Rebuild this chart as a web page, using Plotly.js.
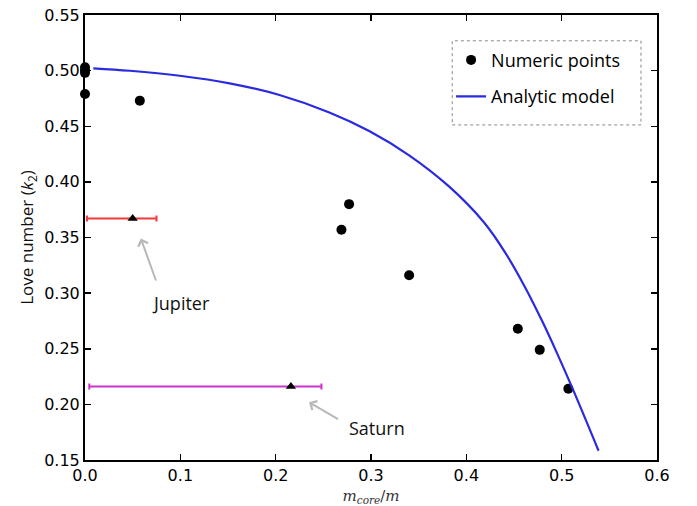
<!DOCTYPE html>
<html>
<head>
<meta charset="utf-8">
<script src="https://cdn.plot.ly/plotly-3.0.1.min.js"></script>
<style>html,body{margin:0;padding:0;background:#fff;}#chart{width:697px;height:506px;}</style>
</head>
<body>
<div id="chart"></div>
<script>
// Numeric points
const numX = [0.0, 0.0, 0.0, 0.0, 0.0575, 0.269, 0.277, 0.340, 0.454, 0.477, 0.507];
const numY = [0.503, 0.500, 0.498, 0.479, 0.473, 0.357, 0.380, 0.316, 0.268, 0.249, 0.214];

// Analytic model curve
const modelX = [0.0087, 0.0471, 0.0994, 0.1517, 0.2040, 0.2563, 0.2981, 0.3400, 0.3818, 0.4184, 0.4411, 0.4620, 0.4794, 0.4951, 0.5115, 0.5387];
const modelY = [0.5021, 0.4999, 0.4954, 0.4886, 0.4781, 0.4624, 0.4457, 0.4239, 0.3959, 0.3637, 0.3360, 0.3047, 0.2751, 0.2461, 0.2141, 0.1583];

// Planets
const planetNames = ["Jupiter", "Saturn"];
const planetX = [0.050, 0.216];
const planetY = [0.367, 0.216];
const planetErrPlus = [0.025, 0.032];
const planetErrMinus = [0.048, 0.2115];
const planetColors = ["#ee3a3a", "#cc33cc"];
// label positions and arrow tails/heads
const labelX = [0.101, 0.3065];
const labelY = [0.291, 0.179];
const arrowTailX = [0.075, 0.267];
const arrowTailY = [0.310, 0.186];
const arrowHeadX = [0.0586, 0.235];
const arrowHeadY = [0.349, 0.202];

const traces = [
  {x: numX, y: numY, mode: 'markers', type: 'scatter', name: 'Numeric points',
   marker: {color: '#000', size: 10}, cliponaxis: false, legendgroup: 'a'},
  {x: modelX, y: modelY, mode: 'lines', type: 'scatter', name: 'Analytic model',
   line: {color: '#2a2ae0', width: 2.2, shape: 'spline', smoothing: 1}, legendgroup: 'b'}
];
for (let i = 0; i < planetNames.length; i++) {
  traces.push({
    x: [planetX[i]], y: [planetY[i]], mode: 'markers', type: 'scatter', showlegend: false,
    name: planetNames[i],
    marker: {symbol: 'triangle-up', color: '#000', size: 9},
    error_x: {type: 'data', symmetric: false, array: [planetErrPlus[i]], arrayminus: [planetErrMinus[i]],
              color: planetColors[i], thickness: 2, width: 3},
    cliponaxis: false
  });
}

const annotations = [];
for (let i = 0; i < planetNames.length; i++) {
  annotations.push({x: arrowHeadX[i], y: arrowHeadY[i], ax: arrowTailX[i], ay: arrowTailY[i],
    xref: 'x', yref: 'y', axref: 'x', ayref: 'y', text: '', showarrow: true,
    arrowhead: 4, arrowsize: 1, arrowwidth: 2, arrowcolor: '#b8b8b8'});
  annotations.push({x: labelX[i], y: labelY[i], xref: 'x', yref: 'y', text: planetNames[i],
    showarrow: false, font: {family: 'Open Sans, sans-serif', size: 18, color: '#111'}});
}

const tickFont = {family: 'DejaVu Sans, sans-serif', size: 16, color: '#000'};
const layout = {
  width: 697, height: 506,
  margin: {l: 85, r: 40, t: 15, b: 46},
  paper_bgcolor: '#fff', plot_bgcolor: '#fff',
  showlegend: true,
  legend: {x: 0.64, y: 0.94, xanchor: 'left', yanchor: 'top', bgcolor: 'rgba(0,0,0,0)',
    borderwidth: 0, font: {family: 'Open Sans, sans-serif', size: 18, color: '#000'},
    traceorder: 'grouped', tracegroupgap: 10},
  xaxis: {range: [0, 0.6], dtick: 0.1, tick0: 0, tickformat: '.1f', ticks: 'inside', ticklen: 6,
    tickwidth: 1.5, tickcolor: '#000', showline: true, linecolor: '#000', linewidth: 2,
    mirror: 'allticks', showgrid: false, zeroline: false, tickfont: tickFont,
    title: {text: '<i>m</i><sub><i>core</i></sub>/<i>m</i>', font: {family: 'DejaVu Serif, Liberation Serif, serif', size: 15, color: '#333'}, standoff: 6}},
  yaxis: {range: [0.15, 0.55], dtick: 0.05, tick0: 0.15, tickformat: '.2f', ticks: 'inside', ticklen: 6,
    tickwidth: 1.5, tickcolor: '#000', showline: true, linecolor: '#000', linewidth: 2,
    mirror: 'allticks', showgrid: false, zeroline: false, tickfont: tickFont,
    title: {text: 'Love number (<i>k</i><sub>2</sub>)', font: {family: 'Open Sans, sans-serif', size: 17, color: '#111'}, standoff: 6}},
  annotations: annotations,
  shapes: [{type: 'rect', xref: 'paper', yref: 'paper', x0: 0.642, x1: 0.972, y0: 0.753, y1: 0.942,
    line: {color: '#888', width: 1, dash: 'dot'}, fillcolor: 'rgba(0,0,0,0)'}]
};

Plotly.newPlot('chart', traces, layout, {displayModeBar: false, staticPlot: true});
</script>
</body>
</html>
